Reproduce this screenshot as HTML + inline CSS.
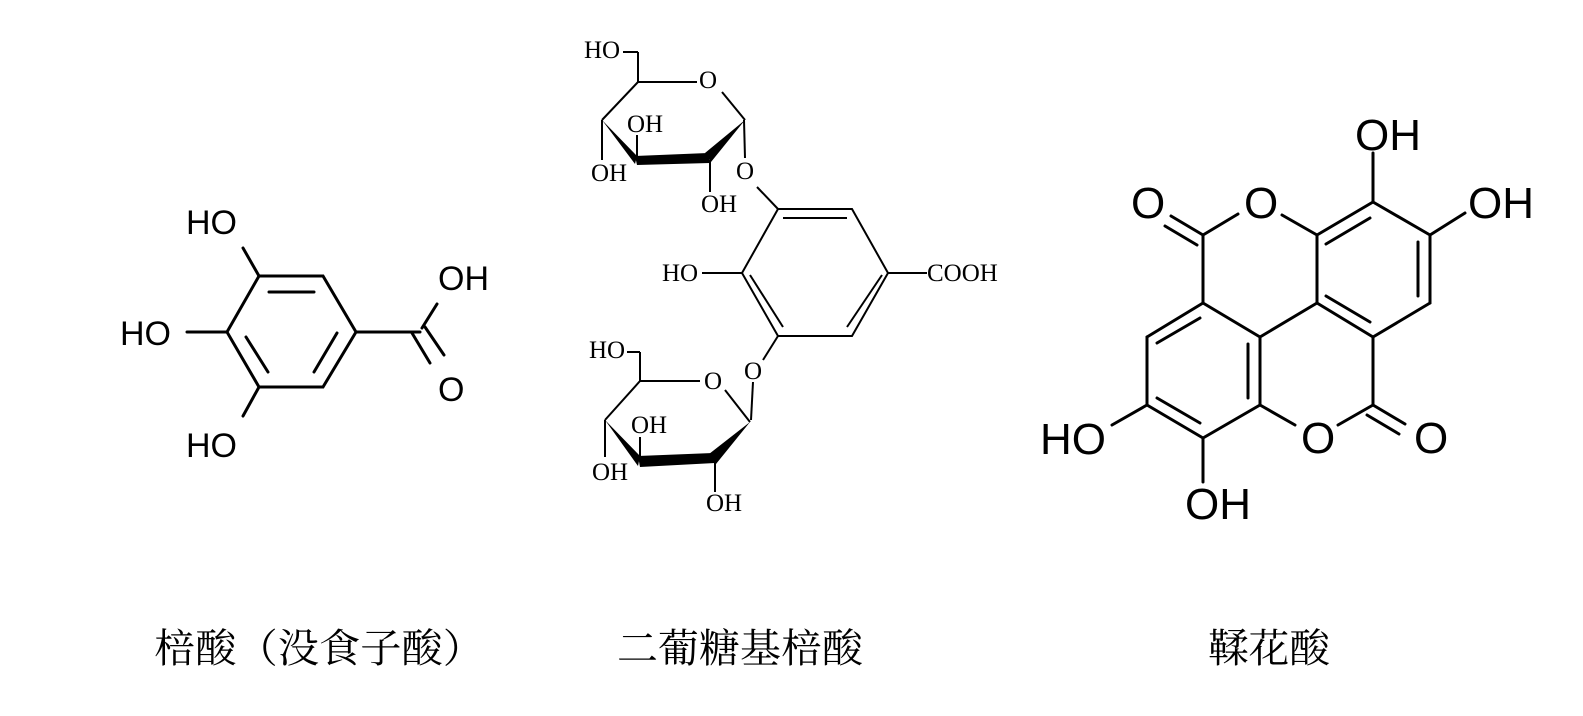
<!DOCTYPE html>
<html><head><meta charset="utf-8"><style>
html,body{margin:0;padding:0;background:#fff;}
svg{display:block;}
.s{font-family:"Liberation Sans",sans-serif;}
.r{font-family:"Liberation Serif",serif;}
.c{font-family:"Liberation Serif","Noto Serif CJK SC",serif;font-size:40px;}
</style></head><body>
<svg width="1583" height="716" viewBox="0 0 1583 716" xmlns="http://www.w3.org/2000/svg">
<rect width="1583" height="716" fill="#fff"/>
<!-- Gallic acid -->
<g stroke="#000" stroke-width="3" fill="none" stroke-linecap="round">
<polygon points="259,276 323,276 356,332 323,387 259,387 227,332"/>
<line x1="269" y1="292" x2="314" y2="292"/>
<line x1="246" y1="337" x2="268" y2="372"/>
<line x1="337" y1="333" x2="314" y2="372"/>
<line x1="259" y1="276" x2="243" y2="248"/>
<line x1="227" y1="332" x2="187" y2="332"/>
<line x1="259" y1="387" x2="243" y2="416"/>
<line x1="356" y1="332" x2="420" y2="332"/>
<line x1="422" y1="328" x2="437" y2="304"/>
<line x1="412" y1="333" x2="430" y2="363"/>
<line x1="425" y1="327" x2="444" y2="355"/>
</g>
<g class="s" font-size="34" fill="#000">
<text x="186" y="234">HO</text>
<text x="120" y="345">HO</text>
<text x="186" y="457">HO</text>
<text x="438" y="290">OH</text>
<text x="438" y="401">O</text>
</g>
<!-- Diglucosyl gallic acid -->
<g stroke="#000" stroke-width="2" fill="none">
<polygon points="778,209 852,209 888,273 852,336 778,336 742,273"/>
<line x1="783" y1="218" x2="847" y2="218"/>
<line x1="882" y1="275" x2="847" y2="327"/>
<line x1="750" y1="275" x2="783" y2="327"/>
<line x1="742" y1="273" x2="702" y2="273"/>
<line x1="888" y1="273" x2="927" y2="273"/>
<line x1="778" y1="209" x2="757" y2="187"/>
<line x1="745" y1="158" x2="744" y2="120"/>
<line x1="638" y1="82" x2="697" y2="82"/>
<line x1="722" y1="92" x2="745" y2="120"/>
<line x1="638" y1="82" x2="602" y2="120"/>
<line x1="602" y1="120" x2="602" y2="160"/>
<line x1="637" y1="160" x2="637" y2="135"/>
<line x1="710" y1="160" x2="710" y2="192"/>
<line x1="638" y1="82" x2="638" y2="52"/>
<line x1="623" y1="52" x2="638" y2="52"/>
<line x1="778" y1="336" x2="763" y2="360"/>
<line x1="753" y1="382" x2="751" y2="420"/>
<line x1="640" y1="381" x2="640" y2="352"/>
<line x1="627" y1="352" x2="640" y2="352"/>
<line x1="640" y1="381" x2="700" y2="381"/>
<line x1="725" y1="390" x2="750" y2="422"/>
<line x1="640" y1="381" x2="605" y2="420"/>
<line x1="605" y1="420" x2="605" y2="457"/>
<line x1="640" y1="460" x2="640" y2="437"/>
<line x1="715" y1="460" x2="715" y2="492"/>
</g>
<g fill="#000" stroke="none">
<polygon points="602,120 637,156 635,164"/>
<polygon points="635,156 708,153 710,163 637,165"/>
<polygon points="745,120 705,153 711,162"/>
<polygon points="605,420 640,456 638,466"/>
<polygon points="638,456 713,453 715,463 640,467"/>
<polygon points="750,422 709,454 716,464"/>
</g>
<g class="r" font-size="25" fill="#000">
<text x="584" y="58">HO</text>
<text x="699" y="88">O</text>
<text x="627" y="132">OH</text>
<text x="591" y="181">OH</text>
<text x="736" y="179">O</text>
<text x="701" y="212">OH</text>
<text x="662" y="281">HO</text>
<text x="927" y="281">COOH</text>
<text x="589" y="358">HO</text>
<text x="744" y="379">O</text>
<text x="704" y="389">O</text>
<text x="631" y="433">OH</text>
<text x="592" y="480">OH</text>
<text x="706" y="511">OH</text>
</g>
<!-- Ellagic acid -->
<g stroke="#000" stroke-width="3" fill="none" stroke-linecap="round">
<line x1="1203" y1="235" x2="1238" y2="214"/>
<line x1="1282" y1="215" x2="1317" y2="235"/>
<line x1="1203" y1="235" x2="1203" y2="303"/>
<line x1="1317" y1="235" x2="1317" y2="303"/>
<line x1="1317" y1="235" x2="1373" y2="202"/>
<line x1="1326" y1="244" x2="1370" y2="218"/>
<line x1="1373" y1="202" x2="1430" y2="235"/>
<line x1="1430" y1="235" x2="1430" y2="303"/>
<line x1="1418" y1="242" x2="1418" y2="296"/>
<line x1="1430" y1="303" x2="1373" y2="337"/>
<line x1="1373" y1="337" x2="1317" y2="303"/>
<line x1="1370" y1="322" x2="1326" y2="296"/>
<line x1="1317" y1="303" x2="1260" y2="337"/>
<line x1="1203" y1="303" x2="1260" y2="337"/>
<line x1="1203" y1="303" x2="1147" y2="337"/>
<line x1="1200" y1="318" x2="1157" y2="343"/>
<line x1="1147" y1="337" x2="1147" y2="405"/>
<line x1="1147" y1="405" x2="1203" y2="438"/>
<line x1="1157" y1="398" x2="1200" y2="423"/>
<line x1="1203" y1="438" x2="1260" y2="405"/>
<line x1="1260" y1="337" x2="1260" y2="405"/>
<line x1="1248" y1="344" x2="1248" y2="398"/>
<line x1="1260" y1="405" x2="1295" y2="425"/>
<line x1="1338" y1="425" x2="1373" y2="405"/>
<line x1="1373" y1="337" x2="1373" y2="405"/>
<line x1="1373" y1="405" x2="1405" y2="424"/>
<line x1="1367" y1="415" x2="1399" y2="434"/>
<line x1="1203" y1="235" x2="1171" y2="216"/>
<line x1="1197" y1="245" x2="1165" y2="226"/>
<line x1="1373" y1="202" x2="1373" y2="153"/>
<line x1="1430" y1="235" x2="1465" y2="213"/>
<line x1="1147" y1="405" x2="1112" y2="425"/>
<line x1="1203" y1="438" x2="1203" y2="482"/>
</g>
<g class="s" font-size="44" fill="#000">
<text x="1355" y="150">OH</text>
<text x="1468" y="218">OH</text>
<text x="1131" y="218">O</text>
<text x="1244" y="218">O</text>
<text x="1301" y="453">O</text>
<text x="1414" y="453">O</text>
<text x="1040" y="454">HO</text>
<text x="1185" y="519">OH</text>
</g>
<!-- captions -->
<g class="c" fill="#000">
<text x="154" y="662" textLength="330" lengthAdjust="spacingAndGlyphs">棓酸（没食子酸）</text>
<text x="617" y="662" textLength="246" lengthAdjust="spacingAndGlyphs">二葡糖基棓酸</text>
<text x="1208" y="662" textLength="122" lengthAdjust="spacingAndGlyphs">鞣花酸</text>
</g>
</svg>
</body></html>
